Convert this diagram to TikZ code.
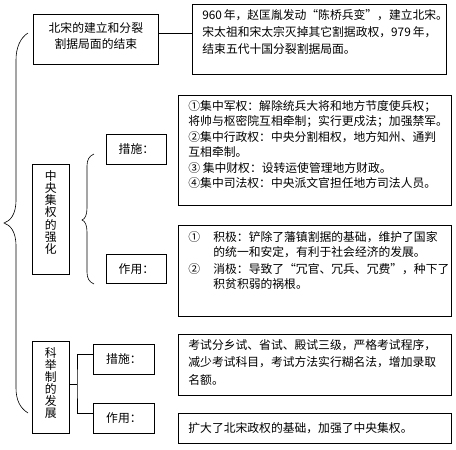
\documentclass[tikz,border=0pt]{standalone}
\usepackage{fontspec}
\setmainfont{Noto Sans CJK SC}
\begin{document}
\begin{tikzpicture}[x=1pt,y=-1pt,
  box/.style={draw, line width=0.8pt, anchor=north west, inner xsep=10pt, inner ysep=0pt},
  vbox/.style={draw, line width=0.8pt, anchor=north west, inner sep=0pt},
  smallbox/.style={draw, line width=0.8pt, anchor=north west, inner sep=0pt, align=center},
  bracel/.style={line width=0.6pt},
  link/.style={line width=0.8pt},
  txt/.style={font=\fontsize{11.8}{14}\selectfont}
]
\useasboundingbox (0,0) rectangle (456,450);

% top row
\node[box, txt] (b1) at (33,14) {\parbox[c][50pt][t]{105pt}{\vspace*{8pt}\centering\fontsize{11.8}{16}\selectfont 北宋的建立和分裂\\割据局面的结束\par}};
\node[box, txt] (b2) at (192,4) {\parbox[c][70pt][t]{234pt}{\vspace*{5pt}\fontsize{11.8}{17}\selectfont 960 年，赵匡胤发动“陈桥兵变”，建立北宋。\\宋太祖和宋太宗灭掉其它割据政权，979 年，\\结束五代十国分裂割据局面。\par}};
\draw[link] ([yshift=6pt]b1.east) -- ([yshift=6pt]b1.east -| b2.west);

% central concentration
\node[vbox, txt] (zy) at (32,164) {\parbox[c][110pt][t]{37pt}{\vspace*{6pt}\centering\fontsize{11.8}{12.2}\selectfont 中\\央\\集\\权\\的\\强\\化\par}};
\node[smallbox, txt, minimum width=60pt, minimum height=30pt] (cs) at (106,134) {措施：};
\node[smallbox, txt, minimum width=60pt, minimum height=29pt] (zu) at (106,254) {作用：};
\node[box, txt] (b3) at (178,95) {\parbox[c][110pt][t]{253pt}{\vspace*{5pt}\fontsize{11.8}{15.5}\selectfont ①集中军权：解除统兵大将和地方节度使兵权；\\将帅与枢密院互相牵制；实行更戍法；加强禁军。\\②集中行政权：中央分割相权，地方知州、通判\\互相牵制。\\③ 集中财权：设转运使管理地方财政。\\④集中司法权：中央派文官担任地方司法人员。\par}};
\node[box, txt] (b4) at (178,225) {\parbox[c][91pt][t]{253pt}{\vspace*{6pt}\fontsize{11.8}{15}\selectfont \makebox[25pt][l]{①}积极：铲除了藩镇割据的基础，维护了国家\\\hspace*{25pt}的统一和安定，有利于社会经济的发展。\\[2pt]\makebox[25pt][l]{②}消极：导致了“冗官、冗兵、冗费”，种下了\\\hspace*{25pt}积贫积弱的祸根。\par}};

% imperial examination
\node[vbox, txt] (kj) at (32,341) {\parbox[c][92pt][t]{37pt}{\vspace*{6pt}\centering\fontsize{11.8}{12}\selectfont 科\\举\\制\\的\\发\\展\par}};
\node[smallbox, txt, minimum width=61pt, minimum height=30pt] (km) at (93,344) {措施：};
\node[smallbox, txt, minimum width=61pt, minimum height=30pt] (kz) at (93,403) {作用：};
\node[box, txt] (b5) at (178,334) {\parbox[c][61pt][t]{253pt}{\vspace*{5pt}\fontsize{11.8}{17.5}\selectfont 考试分乡试、省试、殿试三级，严格考试程序，\\减少考试科目，考试方法实行糊名法，增加录取\\名额。\par}};
\node[box, txt] (b6) at (178,413) {\parbox[c][30pt][c]{253pt}{\fontsize{11.8}{15}\selectfont 扩大了北宋政权的基础，加强了中央集权。\par}};

\coordinate (j) at (77,384);
\draw[link] (kj.east |- j) -- (j);
\draw[link] ([yshift=5pt]km.west) -| (j) |- ([yshift=5pt]kz.west);

% braces
\draw[bracel] (28,33) .. controls (20,38) and (16,48) .. (16,60) -- (16,200)
  .. controls (16,215) and (10,221) .. (4,223)
  .. controls (10,225) and (16,231) .. (16,246) -- (16,388)
  .. controls (16,400) and (20,408) .. (28,413);
\draw[bracel] (94,154) .. controls (89,156) and (87,160) .. (87,166) -- (87,208)
  .. controls (87,215) and (85,219) .. (82,220)
  .. controls (85,221) and (87,225) .. (87,232) -- (87,272)
  .. controls (87,278) and (89,282) .. (94,284);
\end{tikzpicture}
\end{document}
